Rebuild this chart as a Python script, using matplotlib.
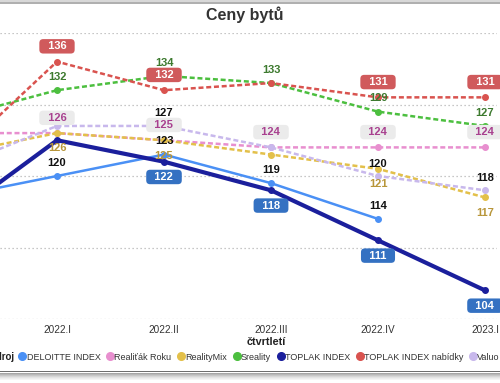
import matplotlib
matplotlib.use("Agg")
import matplotlib.pyplot as plt
from matplotlib.lines import Line2D
from matplotlib.patches import Rectangle

plt.rcParams['font.family'] = ['Liberation Sans', 'DejaVu Sans']

# quarters (first one sits left of the visible area)
quarters = ["2021.IV", "2022.I", "2022.II", "2022.III", "2022.IV", "2023.I"]

deloitte = [117, 120, 123, 119, 114, None]
realitak = [126, 126, 125, 124, 124, 124]
realitymix = [123, 126, 125, 123, 121, 117]
sreality = [128, 132, 134, 133, 129, 127]
toplak = [114, 125, 122, 118, 111, 104]
toplak_nabidky = [122, 136, 132, 133, 131, 131]
valuo = [121, 127, 127, 124, 120, 118]

series_names = ["DELOITTE INDEX", "Realiťák Roku", "RealityMix", "Sreality",
                "TOPLAK INDEX", "TOPLAK INDEX nabídky", "Valuo"]
series_values = [deloitte, realitak, realitymix, sreality, toplak, toplak_nabidky, valuo]

# value labels that the original chart hides because they overlap
hidden_labels = {("RealityMix", 3), ("TOPLAK INDEX", 1), ("TOPLAK INDEX nabídky", 3),
                 ("Valuo", 1), ("Valuo", 3)}

# style per series: colour, line style, width, label colour, label box, offset (pt)
styles = {
    "DELOITTE INDEX": dict(c="#4a90f5", ls="-", lw=1.8, tc="#111111", box=None, dy=9.5),
    "Realiťák Roku": dict(c="#e88fcf", ls=(0, (2, 1.1)), lw=1.8, tc="#a8408f", box="#ebebeb", dy=11),
    "RealityMix": dict(c="#e3c04a", ls=(0, (2, 1.1)), lw=1.8, tc="#b8963a", box=None, dy=-11),
    "Sreality": dict(c="#4cbf3f", ls=(0, (2, 1.1)), lw=1.8, tc="#3d7a2f", box=None, dy=9.5),
    "TOPLAK INDEX": dict(c="#1b1f9c", ls="-", lw=3.0, tc="white", box="#3471c2", dy=-11),
    "TOPLAK INDEX nabídky": dict(c="#d9534f", ls=(0, (2, 1.1)), lw=1.8, tc="white", box="#d05a5c", dy=11),
    "Valuo": dict(c="#c8b8ec", ls=(0, (2, 1.1)), lw=1.8, tc="#111111", box=None, dy=9),
}

fig = plt.figure(figsize=(5, 3.83), dpi=100)
W, H = 500, 383

# plot area: 2022.I at x=57px, step 107px, 100 at y=319px, 140 at y=33px
ax = fig.add_axes([0, (H - 319) / H, 497 / W, (319 - 33) / H])

x = list(range(len(quarters)))
for name, vals in zip(series_names, series_values):
    st = styles[name]
    xs = [i for i, v in zip(x, vals) if v is not None]
    ys = [v for v in vals if v is not None]
    ax.plot(xs, ys, color=st["c"], linestyle=st["ls"], linewidth=st["lw"],
            marker="o", markersize=4)
    for i, v in zip(xs, ys):
        if i == 0 or (name, i) in hidden_labels:
            continue
        kw = {}
        txt = str(v)
        if st["box"]:
            txt = "  " + txt + "  "
            kw["bbox"] = dict(boxstyle="round,pad=0.2,rounding_size=0.35",
                              fc=st["box"], ec="none")
        ax.annotate(txt, (i, v), xytext=(0, st["dy"]), textcoords="offset points",
                    ha="center", va="center", fontsize=8, fontweight="bold",
                    color=st["tc"], annotation_clip=False, **kw)

ax.set_yticks([100, 110, 120, 130, 140])
ax.set_yticklabels([])
ax.grid(axis="y", color="#b5b5b5", linestyle=(0, (1, 2.2)), linewidth=0.9)
ax.set_axisbelow(True)
ax.set_xticks(x)
ax.set_xticklabels(quarters, fontsize=7.2, color="#333333")
ax.tick_params(length=0, pad=4, axis="both")
for s in ax.spines.values():
    s.set_visible(False)
ax.set_xlim(1 - 57 / 107, 1 + 440 / 107)
ax.set_ylim(100, 140)

fig.text(245 / W, 1 - 15 / H, "Ceny bytů", ha="center", va="center",
         fontsize=11.5, fontweight="bold", color="#333333")
fig.text(266 / W, 1 - 342 / H, "čtvrtletí", ha="center", va="center",
         fontsize=7.8, fontweight="bold", color="#222222")

# legend row
fig.text(15 / W, 1 - 357 / H, "Zdroj", ha="right", va="center",
         fontsize=7, fontweight="bold", color="#222222")
handles = [Line2D([], [], color=styles[n]["c"], marker="o", linestyle="none",
                  markersize=5.5) for n in series_names]
fig.legend(handles, series_names, loc="center left", bbox_to_anchor=(19 / W, 1 - 357 / H),
           ncol=7, frameon=False, fontsize=6.5, handlelength=0.75, handletextpad=0.1,
           columnspacing=0.68, borderpad=0, borderaxespad=0, labelcolor="#333333")

# frame of the original card: top edge and bottom shadow
fig.patches.append(Rectangle((0, 1 - 4 / H), 1, 4 / H, transform=fig.transFigure,
                             fc="#b0b0b0", ec="none"))
fig.patches.append(Rectangle((0, 1 - 2 / H), 1, 2 / H, transform=fig.transFigure,
                             fc="#d8d8d8", ec="none"))
fig.patches.append(Rectangle((0, 1 - 372 / H), 1, 1.5 / H, transform=fig.transFigure,
                             fc="#6e6e6e", ec="none"))
for k, a in enumerate([0.35, 0.28, 0.22, 0.16, 0.11, 0.07, 0.04]):
    fig.patches.append(Rectangle((0, 1 - (373.5 + k) / H), 1, 1 / H,
                                 transform=fig.transFigure, fc="black", alpha=a, ec="none"))

fig.savefig("out.png", dpi=100)
